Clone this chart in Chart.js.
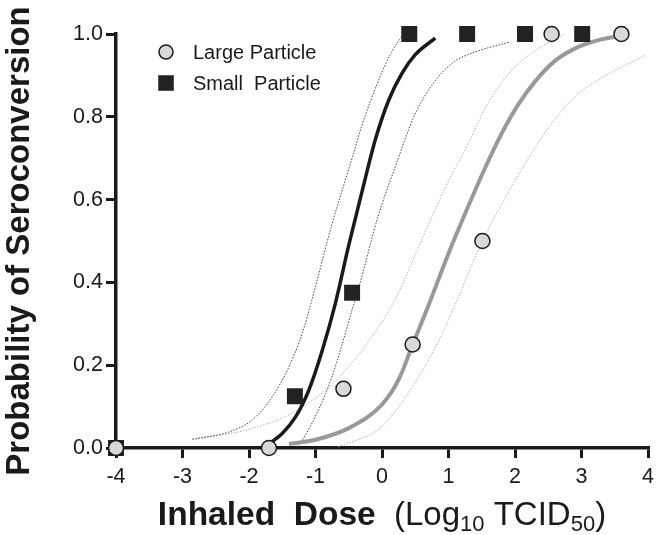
<!DOCTYPE html>
<html><head><meta charset="utf-8">
<script src="https://cdn.jsdelivr.net/npm/chart.js@4/dist/chart.umd.min.js"></script>
<style>html,body{margin:0;padding:0;background:#fff}#wrap{width:660px;height:535px}</style>
</head><body><div id="wrap"><canvas id="c" width="660" height="535"></canvas></div>
<script>
// ---- data ----
const xTicks = [-4, -3, -2, -1, 0, 1, 2, 3, 4];
const yTicks = [0, 0.2, 0.4, 0.6, 0.8, 1.0];

const largeX = [-4, -1.7, -0.58, 0.46, 1.51, 2.55, 3.6];
const largeY = [0, 0, 0.143, 0.25, 0.5, 1, 1];
const smallX = [-4, -1.31, -0.45, 0.41, 1.28, 2.15, 3.01];
const smallY = [0, 0.125, 0.375, 1, 1, 1, 1];

// fitted curve for small particles (traced)
const smallFitX = [-1.70, -1.50, -1.30, -1.10, -0.90, -0.70, -0.50, -0.30, -0.10, 0.10, 0.30, 0.50, 0.80];
const smallFitY = [0.01, 0.035, 0.075, 0.14, 0.235, 0.35, 0.49, 0.62, 0.745, 0.84, 0.905, 0.95, 0.99];
// confidence bands, small particles
const smallLoX = [-2.85, -2.30, -1.95, -1.65, -1.40, -1.20, -1.055, -0.755, -0.45, -0.31, -0.06, 0.14, 0.30];
const smallLoY = [0.021, 0.039, 0.068, 0.124, 0.196, 0.277, 0.357, 0.539, 0.70, 0.775, 0.885, 0.955, 0.995];
const smallHiX = [-1.28, -1.20, -0.955, -0.757, -0.61, -0.46, -0.33, -0.06, 0.21, 0.49, 0.79, 1.085, 1.41, 1.93];
const smallHiY = [0.003, 0.019, 0.092, 0.17, 0.245, 0.328, 0.398, 0.559, 0.684, 0.804, 0.885, 0.933, 0.957, 0.981];

// fitted curve for large particles (traced)
const largeFitX = [-1.40, -1.00, -0.50, 0.00, 0.25, 0.45, 0.70, 1.00, 1.30, 1.56, 1.80, 2.05, 2.30, 2.60, 2.97, 3.30, 3.60];
const largeFitY = [0.01, 0.02, 0.048, 0.105, 0.165, 0.245, 0.345, 0.47, 0.585, 0.68, 0.76, 0.83, 0.885, 0.935, 0.97, 0.987, 0.995];
// confidence bands, large particles
const largeLoX = [-2.85, -2.05, -1.45, -1.25, -0.81, -0.26, 0.20, 0.59, 0.985, 1.28, 1.58, 1.93, 2.28, 2.73];
const largeLoY = [0.021, 0.043, 0.076, 0.094, 0.145, 0.245, 0.36, 0.50, 0.64, 0.73, 0.829, 0.909, 0.957, 0.999];
const largeHiX = [-0.66, -0.01, 0.49, 0.836, 0.985, 1.11, 1.51, 1.98, 2.28, 2.53, 2.93, 3.37, 3.97];
const largeHiY = [0.003, 0.051, 0.156, 0.253, 0.305, 0.35, 0.50, 0.64, 0.72, 0.78, 0.853, 0.90, 0.949];

const legendLabels = ['Large Particle', 'Small  Particle'];

// ---- build ----
const FF = '"Liberation Sans", Arial, Helvetica, sans-serif';
const pts = (xs, ys) => xs.map((x, i) => ({x, y: ys[i]}));

function curve(xs, ys, color, width, dash, order) {
  return {
    data: pts(xs, ys), showLine: true, pointRadius: 0, pointHoverRadius: 0,
    borderColor: color, borderWidth: width, borderDash: dash || [],
    cubicInterpolationMode: 'monotone', fill: false, clip: false, order
  };
}

const datasets = [
  {label: legendLabels[0], data: pts(largeX, largeY), pointStyle: 'circle', pointRadius: 7.5,
   backgroundColor: '#d9d9d9', borderColor: '#1a1a1a', borderWidth: 1.5, showLine: false, clip: false, order: 0},
  {label: legendLabels[1], data: pts(smallX, smallY), pointStyle: 'rect', pointRadius: 11.3,
   backgroundColor: '#222222', borderColor: '#222222', borderWidth: 0, showLine: false, clip: false, order: 1},
  curve(smallFitX, smallFitY, '#1a1a1a', 3.5, null, 2),
  curve(largeFitX, largeFitY, '#999999', 4, null, 3),
  curve(smallLoX, smallLoY, '#444444', 1, [1.5, 1.5], 4),
  curve(smallHiX, smallHiY, '#444444', 1, [1.5, 1.5], 5),
  curve(largeLoX, largeLoY, '#b0b0b0', 1, [1.5, 1.5], 6),
  curve(largeHiX, largeHiY, '#b0b0b0', 1, [1.5, 1.5], 7)
];

const xTitlePlugin = {
  id: 'xTitle',
  afterDraw(chart) {
    const ctx = chart.ctx, ca = chart.chartArea;
    const parts = [
      {t: 'Inhaled  Dose', f: 'bold 33.5px ' + FF, dy: 0},
      {t: '  (Log', f: '33px ' + FF, dy: 0},
      {t: '10', f: '22px ' + FF, dy: 6},
      {t: ' TCID', f: '33px ' + FF, dy: 0},
      {t: '50', f: '22px ' + FF, dy: 6},
      {t: ')', f: '33px ' + FF, dy: 0}
    ];
    ctx.save();
    ctx.fillStyle = '#1a1a1a';
    ctx.textBaseline = 'alphabetic';
    ctx.textAlign = 'left';
    let total = 0;
    parts.forEach(p => { ctx.font = p.f; p.w = ctx.measureText(p.t).width; total += p.w; });
    let x = (ca.left + ca.right) / 2 - total / 2;
    const base = 525;
    parts.forEach(p => { ctx.font = p.f; ctx.fillText(p.t, x, base + p.dy); x += p.w; });
    ctx.restore();
  }
};

const legendPlugin = {
  id: 'innerLegend',
  afterDraw(chart) {
    const ctx = chart.ctx, ca = chart.chartArea;
    const items = [chart.data.datasets[0], chart.data.datasets[1]];
    const rows = [ca.top + 18, ca.top + 49];
    ctx.save();
    items.forEach((ds, i) => {
      ctx.fillStyle = ds.backgroundColor;
      ctx.strokeStyle = ds.borderColor;
      ctx.lineWidth = ds.borderWidth;
      Chart.helpers.drawPoint(ctx, {pointStyle: ds.pointStyle, radius: ds.pointStyle === 'rect' ? 11 : 7, rotation: 0, borderWidth: ds.borderWidth},
        ca.left + 50, rows[i]);
      ctx.fillStyle = '#1a1a1a';
      ctx.font = '20px ' + FF;
      ctx.textBaseline = 'middle';
      ctx.textAlign = 'left';
      ctx.fillText(ds.label, ca.left + 77, rows[i] + 1);
    });
    ctx.restore();
  }
};

new Chart(document.getElementById('c'), {
  type: 'scatter',
  data: {datasets},
  plugins: [xTitlePlugin, legendPlugin],
  options: {
    responsive: false, animation: false, devicePixelRatio: 1,
    layout: {padding: {left: 0, right: 8, top: 34, bottom: 0}},
    plugins: {legend: {display: false}, tooltip: {enabled: false}},
    scales: {
      x: {
        type: 'linear', min: -4, max: 4,
        afterBuildTicks: s => { s.ticks = xTicks.map(v => ({value: v})); },
        afterFit: s => { s.height = 87; },
        grid: {display: true, drawOnChartArea: false, drawTicks: true, tickLength: 10, lineWidth: 3, color: '#1a1a1a'},
        border: {display: true, width: 3.5, color: '#1a1a1a'},
        ticks: {font: {family: FF, size: 21.5}, color: '#1a1a1a', padding: 6, callback: v => String(v)}
      },
      y: {
        type: 'linear', min: 0, max: 1,
        afterBuildTicks: s => { s.ticks = yTicks.map(v => ({value: v})); },
        afterFit: s => { s.width = 116; },
        grid: {display: true, drawOnChartArea: false, drawTicks: true, tickLength: 10, lineWidth: 3, color: '#1a1a1a'},
        border: {display: true, width: 3.5, color: '#1a1a1a'},
        ticks: {font: {family: FF, size: 21.5}, color: '#1a1a1a', padding: 3, callback: v => Number(v).toFixed(1)},
        title: {display: true, text: 'Probability of Seroconversion', color: '#1a1a1a',
                font: {family: FF, size: 33, weight: 'bold'}, padding: {top: 0, bottom: 0}}
      }
    }
  }
});
</script></body></html>
